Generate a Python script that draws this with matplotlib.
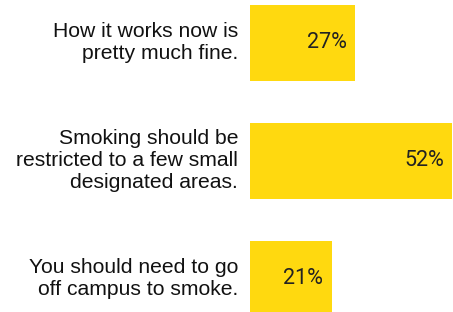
import matplotlib
matplotlib.use('Agg')
import matplotlib.pyplot as plt

labels = ['How it works now is\npretty much fine.',
          'Smoking should be\nrestricted to a few small\ndesignated areas.',
          'You should need to go\noff campus to smoke.']
values = [27, 52, 21]

BAR_COLOR = '#FFD90F'

fig = plt.figure(figsize=(4.53, 3.12), dpi=100)
ax = fig.add_axes([250 / 453, 0, 202 / 453, 1])

y = list(range(len(values)))
ax.barh(y, values, height=0.644, color=BAR_COLOR)
ax.set_xlim(0, 52)
ax.set_ylim(2.28, -0.364)
ax.axis('off')

for yi, v, lab in zip(y, values, labels):
    ax.annotate(f'{v}%', xy=(v, yi), xytext=(-6, 0), textcoords='offset points',
                ha='right', va='center', fontsize=15.5, family='Roboto', color='#222222')
    ax.annotate(lab, xy=(0, yi), xytext=(-8.5, 0), textcoords='offset points',
                ha='right', va='center', fontsize=15.2, family='Liberation Sans',
                color='#111111', linespacing=1.2, annotation_clip=False)

fig.savefig('out.png', dpi=100)
